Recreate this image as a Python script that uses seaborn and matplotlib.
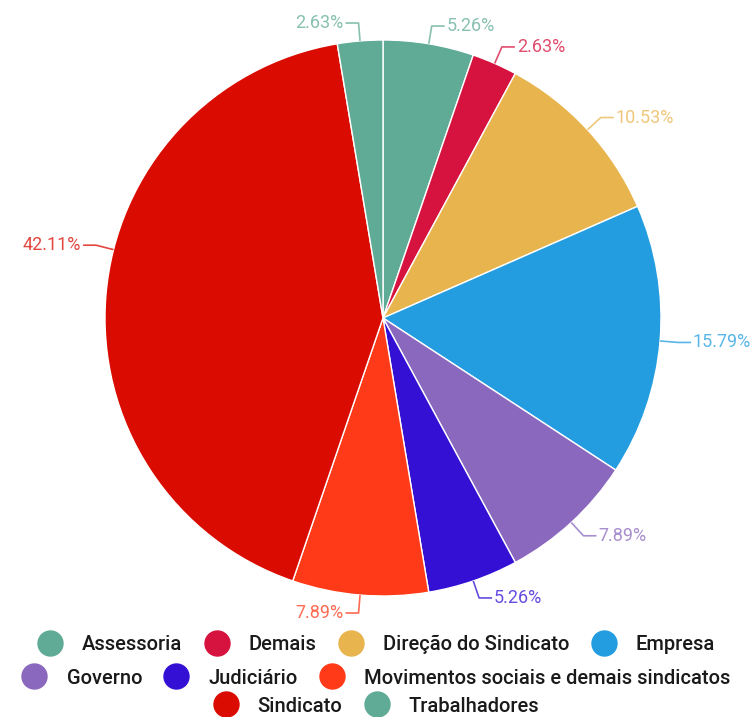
import numpy as np
import matplotlib
matplotlib.use("Agg")
import matplotlib.pyplot as plt
from matplotlib.lines import Line2D
from matplotlib.colors import to_rgb
import seaborn as sns

# Categories, counts (38 responses) and the percentage labels they give
categories = ["Assessoria", "Demais", "Direção do Sindicato", "Empresa", "Governo",
              "Judiciário", "Movimentos sociais e demais sindicatos", "Sindicato",
              "Trabalhadores"]
counts = [2, 1, 4, 6, 3, 2, 3, 16, 1]
pct_labels = ["5.26%", "2.63%", "10.53%", "15.79%", "7.89%",
              "5.26%", "7.89%", "42.11%", "2.63%"]
colors = ["#60ab96", "#d5133e", "#e8b44d", "#239de0", "#8a68bd",
          "#3410d4", "#fe3a19", "#da0b00", "#60ab96"]
legend_rows = [[0, 1, 2, 3], [4, 5, 6], [7, 8]]

sns.set_theme(style="white")
plt.rcParams["font.family"] = ["Roboto", "DejaVu Sans"]

W, H = 755, 717
fig = plt.figure(figsize=(W / 100, H / 100), dpi=100)
ax = fig.add_axes([0, 0, 1, 1])

cx, cy, R = 383, H - 318, 278
wedges, _ = ax.pie(counts, colors=colors, startangle=90, counterclock=False,
                   radius=R, center=(cx, cy), frame=True,
                   wedgeprops=dict(edgecolor="white", linewidth=1.0))
ax.set_xlim(0, W)
ax.set_ylim(0, H)
ax.axis("off")


def lighten(c, amt=0.18):
    r, g, b = to_rgb(c)
    return (r + (1 - r) * amt, g + (1 - g) * amt, b + (1 - b) * amt)


# Leader lines: short radial segment, then a horizontal run to the label
anchor_shift = {"Sindicato": -9.5}
seg1, seg2 = 18, 13
for w, cat, lab, col in zip(wedges, categories, pct_labels, colors):
    ang = (w.theta1 + w.theta2) / 2 + anchor_shift.get(cat, 0)
    a = np.deg2rad(ang)
    x0, y0 = cx + R * np.cos(a), cy + R * np.sin(a)
    x1, y1 = cx + (R + seg1) * np.cos(a), cy + (R + seg1) * np.sin(a)
    side = 1 if np.cos(a) >= 0 else -1
    x2 = x1 + side * seg2
    lc = lighten(col, 0.25)
    ax.plot([x0, x1, x2], [y0, y1, y1], color=lc, lw=1.2, solid_capstyle="butt")
    ax.text(x2 + side * 2, y1, lab, color=lc, fontsize=13,
            ha="left" if side > 0 else "right", va="center")

# Legend: three centred rows of round markers
row_y = [1 - 644 / H, 1 - 678 / H, 1 - 706 / H]
for idx, yy in zip(legend_rows, row_y):
    handles = [Line2D([0], [0], marker="o", linestyle="none", markersize=18,
                      markerfacecolor=colors[i], markeredgecolor=colors[i])
               for i in idx]
    leg = fig.legend(handles, [categories[i] for i in idx], loc="center",
                     bbox_to_anchor=(0.5, yy), ncol=len(idx), frameon=False,
                     handlelength=1.0, handletextpad=1.1, columnspacing=1.2,
                     borderpad=0, borderaxespad=0,
                     prop=dict(family="Roboto", size=14.5, weight="medium"))
    for t in leg.get_texts():
        t.set_color("#1a1a1a")

fig.savefig("out.png", dpi=100, facecolor="white")
